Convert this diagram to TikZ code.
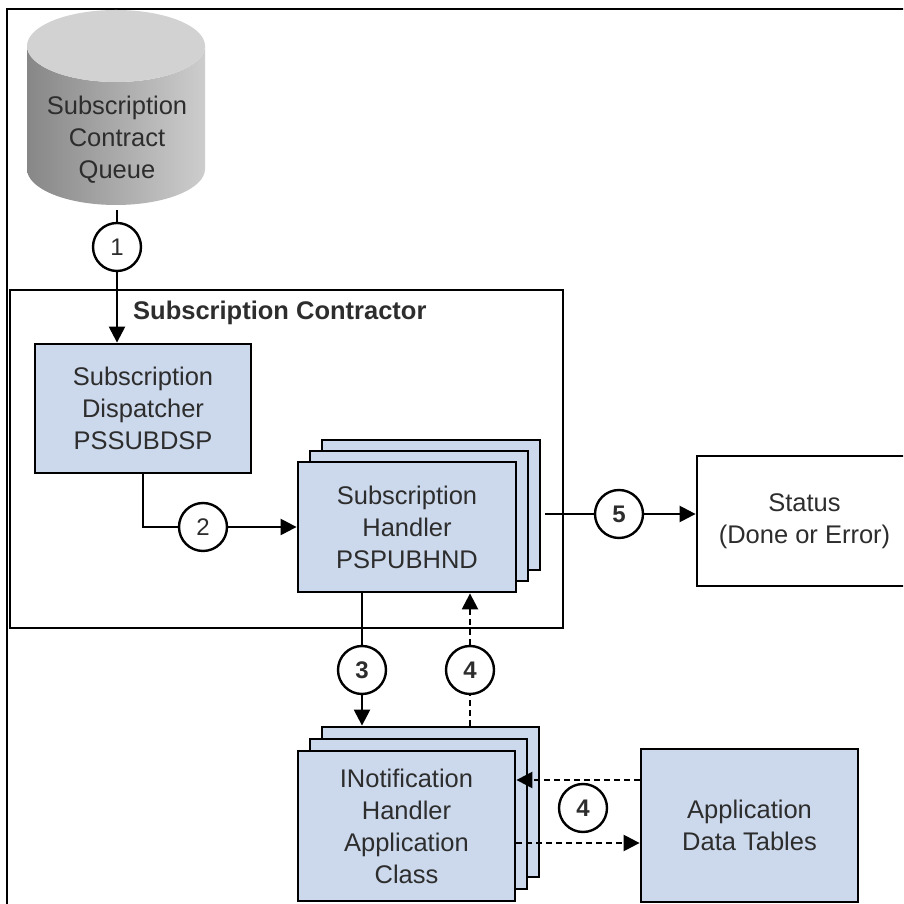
\documentclass[tikz,border=0pt]{standalone}
\usepackage{fontspec}
\setmainfont{Liberation Sans}
\usetikzlibrary{arrows.meta}
\definecolor{boxblue}{RGB}{204,217,236}
\definecolor{txt}{RGB}{45,45,45}
\begin{document}
\begin{tikzpicture}[x=1pt,y=1pt,
  every node/.style={text=txt},
  bodytext/.style={font=\fontsize{25.5}{32}\selectfont, align=center},
  bluebox/.style={draw=black, line width=2.8pt, fill=boxblue, bodytext, inner sep=0pt},
  whitebox/.style={draw=black, line width=2.8pt, fill=white, bodytext, inner sep=0pt},
  num/.style={draw=black, line width=2.4pt, circle, minimum size=48pt, inner sep=0pt, fill=white, font=\fontsize{24}{24}\selectfont},
  bnum/.style={num, font=\fontsize{24}{24}\selectfont\bfseries},
  conn/.style={line width=2.4pt, draw=black},
  arr/.style={conn, -{Triangle[length=16pt,width=16pt]}},
  dsh/.style={dash pattern=on 6pt off 4pt}
]
\useasboundingbox (0,0) rectangle (903,904);
\clip (0,0) rectangle (903,904);
\fill[white] (0,0) rectangle (903,904);
% outer frame (cropped)
\draw[line width=1.8pt] (7,-5) -- (7,895) -- (910,895);

% cylinder
\shade[left color={rgb,255:red,135;green,135;blue,135}, right color={rgb,255:red,205;green,205;blue,205}]
  (27,858) -- (27,735) arc[start angle=180,end angle=360,x radius=89,y radius=36]
  -- (205,858) arc[start angle=0,end angle=-180,x radius=89,y radius=36] -- cycle;
\fill[fill={rgb,255:red,210;green,210;blue,210}] (116,858) ellipse[x radius=89,y radius=36];
\node[bodytext] (queue) at (117,764) {Subscription\\Contract\\Queue};
\coordinate (qbot) at (117,694);

% container
\node[draw=black, line width=2.8pt, minimum width=553pt, minimum height=338pt, inner sep=0pt] (cont) at (286.5,445) {};
\node[anchor=west, inner sep=0pt, font=\fontsize{25.5}{32}\selectfont\bfseries] (ctitle) at (133,591) {Subscription Contractor};

% dispatcher
\node[bluebox, minimum width=216pt, minimum height=129pt] (disp) at (143,495.5) {Subscription\\Dispatcher\\PSSUBDSP};

% handler stack
\node[bluebox, minimum width=218pt, minimum height=130pt] (hs3) at (431,399) {};
\node[bluebox, minimum width=218pt, minimum height=130pt] (hs2) at (419,388) {};
\node[bluebox, minimum width=218pt, minimum height=130pt] (hs) at (407,377) {Subscription\\Handler\\PSPUBHND};

% status
\node[whitebox, minimum width=215pt, minimum height=130pt] (status) at (804.5,383) {Status\\(Done or Error)};

% application class stack
\node[bluebox, minimum width=217pt, minimum height=150pt] (as3) at (430.5,102) {};
\node[bluebox, minimum width=217pt, minimum height=150pt] (as2) at (418.5,90) {};
\node[bluebox, minimum width=217pt, minimum height=150pt] (as) at (406.5,78) {INotification\\Handler\\Application\\Class};

% application data tables
\node[bluebox, minimum width=217pt, minimum height=153pt] (adt) at (749.5,78.5) {Application\\Data Tables};

% number circles
\node[num] (c1) at (117,657) {1};
\node[num] (c2) at (203,377) {2};
\node[bnum] (c3) at (362,234) {3};
\node[bnum] (c4) at (470,234) {4};
\node[bnum] (c4b) at (583,96) {4};
\node[bnum] (c5) at (619,390) {5};

% helper coordinates
\coordinate (h5) at (545,390);
\coordinate (yin) at (0,124);
\coordinate (yout) at (0,61);

% connectors
\draw[conn] (qbot) -- (c1);
\draw[arr] (c1) -- (c1 |- disp.north);
\draw[conn] (disp.south) |- (c2);
\draw[arr] (c2) -- (hs.west);
\draw[conn] (h5) -- (c5);
\draw[arr] (c5) -- (status.west |- c5);
\draw[conn] (hs.south -| c3) -- (c3);
\draw[arr] (c3) -- (c3 |- as3.north);
\draw[conn, dsh] (as3.north -| c4) -- (c4);
\draw[arr, dsh] (c4) -- (c4 |- hs.south);
\draw[arr, dsh] (adt.west |- yin) -- (as.east |- yin);
\draw[arr, dsh] (as.east |- yout) -- (adt.west |- yout);
\end{tikzpicture}
\end{document}
